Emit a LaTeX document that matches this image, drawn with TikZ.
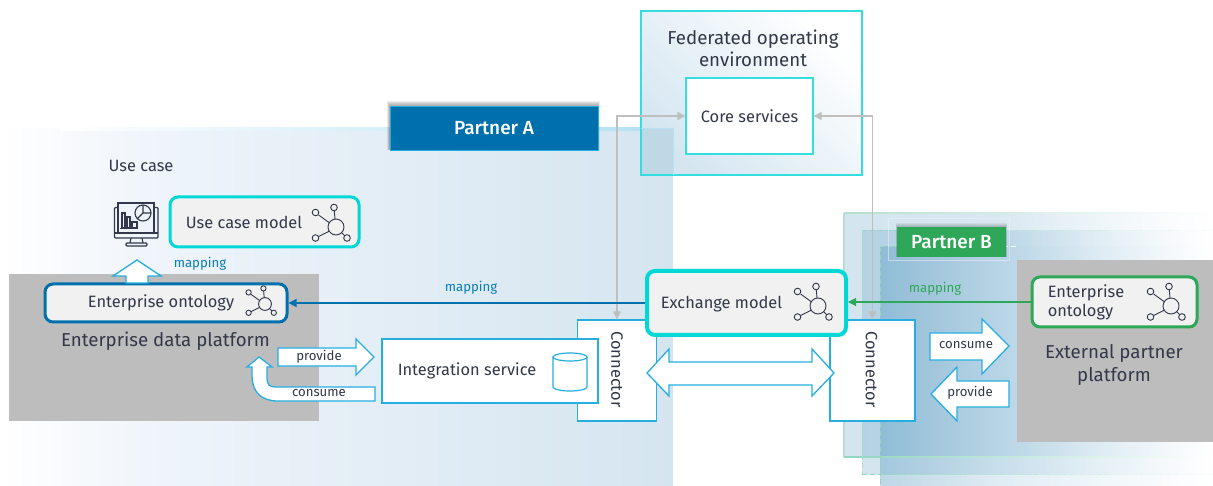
\documentclass[tikz,border=0pt]{standalone}
\usepackage{fontspec}
\setmainfont{Fira Sans}
\newfontfamily\medfont{Fira Sans Medium}
\usetikzlibrary{arrows.meta}
\definecolor{ink}{HTML}{33384A}
\definecolor{cyanb}{HTML}{00D8D8}
\definecolor{cyanl}{HTML}{35DEDE}
\definecolor{skyb}{HTML}{27AEE0}
\definecolor{blueb}{HTML}{0070AD}
\definecolor{greenb}{HTML}{2EA858}
\definecolor{platf}{HTML}{BDBDBD}
\definecolor{modelf}{HTML}{F1F1F1}
\definecolor{graya}{HTML}{BFBFBF}
\definecolor{aa}{HTML}{EEF4FA}
\definecolor{ab}{HTML}{D5E5F0}
\definecolor{overlap}{HTML}{BFD8E6}
\definecolor{feda}{HTML}{D5E6F1}
\definecolor{toplin}{HTML}{B5E2F3}
\definecolor{greenl}{HTML}{B5E0D0}
\definecolor{greend}{HTML}{8FD6BE}
\definecolor{la}{HTML}{6FA8CB}
\definecolor{lb}{HTML}{7FB2D2}
\definecolor{lc}{HTML}{CAE0EC}
\definecolor{ld}{HTML}{EBF3F8}
\definecolor{ma}{HTML}{5A9CC4}
\definecolor{mb}{HTML}{80B0CE}
\definecolor{mc}{HTML}{B2D2E4}
\definecolor{md}{HTML}{D9E9F2}
\definecolor{me}{HTML}{EEF5FA}
\pgfdeclarehorizontalshading{pA}{100bp}{color(0bp)=(white); color(25bp)=(white); color(37bp)=(aa); color(75bp)=(ab); color(100bp)=(ab)}
\pgfdeclarehorizontalshading{pBlay}{100bp}{color(0bp)=(la); color(25bp)=(la); color(46bp)=(lb); color(60bp)=(lc); color(68bp)=(ld); color(75bp)=(white); color(100bp)=(white)}
\pgfdeclarehorizontalshading{pBtop}{100bp}{color(0bp)=(ma); color(25bp)=(ma); color(32.5bp)=(mb); color(43bp)=(mc); color(58bp)=(md); color(67bp)=(me); color(75bp)=(white); color(100bp)=(white)}
\tikzset{
 x=1pt,y=-1pt,
 every node/.style={font=\fontsize{16.4}{19}\selectfont,text=ink,inner sep=0pt,align=center},
 modelbox/.style={rounded corners=8pt,fill=modelf,line width=#1},
 modelbox/.default=3pt,
 whitebox/.style={draw=skyb,line width=1.4pt,fill=white},
 arrowshape/.style={draw=skyb,line width=1.3pt,fill=white,line join=miter},
 grayline/.style={draw=graya,line width=1.1pt,{Triangle[length=8pt,width=8pt,fill=graya]}-{Triangle[length=8pt,width=8pt,fill=graya]}},
 mapline/.style={line width=1.1pt,-{Triangle[length=8pt,width=8pt]}},
 small/.style={font=\fontsize{13.2}{15}\selectfont},
 netline/.style={draw=ink,line width=0.9pt},
 platform/.style={fill=platf},
 partnerlabel/.style={text=white,font=\fontsize{19}{22}\selectfont\medfont},
 fadedash/.style={draw=greend,line width=1pt,dash pattern=on 5pt off 3pt},
}
\newcommand{\neticon}[3]{% cx, cy, scale
 \begin{scope}[shift={(#1,#2)},scale=#3,netline]
  \draw (0,0) circle[radius=8];
  \draw (-6.6,-4.2) -- (-17.4,-12); \draw (-1,-8) -- (-1.7,-16);
  \draw (-6.8,4.2) -- (-17.6,9.6); \draw (5.7,5.7) -- (9,9);
  \draw[fill=modelf] (-20.5,-14.5) circle[radius=3.3];
  \draw[fill=modelf] (-2,-19.5) circle[radius=3.3];
  \draw[fill=modelf] (-20.5,11) circle[radius=3.3];
  \draw[fill=modelf] (11,11) circle[radius=3.3];
 \end{scope}}
\newcommand{\fadeline}[3]{% x start, y, x end of dashed fade
 \foreach \k in {0,...,9}{
  \pgfmathsetmacro{\xa}{#1+(#3-#1)*\k/10}
  \pgfmathsetmacro{\xb}{#1+(#3-#1)*(\k+1)/10}
  \pgfmathsetmacro{\pp}{int(95-9.5*\k)}
  \draw[fadedash,draw=greend!\pp!white] (\xa,#2) -- (\xb,#2);
 }}
\begin{document}
\begin{tikzpicture}
\useasboundingbox (0,0) rectangle (1213,486);
% Federated environment
\shade[top color=feda,bottom color=white,shading angle=135] (641,11) rectangle (862,175);
% Partner A
\shade[shading=pA] (0,129) rectangle (673,486);
\fill[overlap] (641,129) rectangle (673,175);
\shade[left color=white,right color=toplin] (60,128) rectangle (641,130.5);
\draw[cyanl,line width=1.3pt] (641,11) rectangle (862,175);
\draw[toplin,line width=1pt] (641,129) -- (673,129) -- (673,175);
% Partner B
\shade[shading=pBlay,fill opacity=.3] (844,213) rectangle (1213,457);
\shade[shading=pBlay,fill opacity=.3] (862,231) rectangle (1213,474);
\shade[shading=pBtop,fill opacity=.4] (880,247) rectangle (1213,486);
\shade[left color=greenl,right color=white] (844,212.3) rectangle (1213,213.7);
\draw[greenl,line width=1.2pt] (844,213) -- (844,457);
\shade[left color=greend,right color=white] (844,456.4) rectangle (1213,457.6);
\draw[fadedash,draw=greend!80!white] (862,231) -- (862,474);
\fadeline{862}{231}{1213}
\fadeline{862}{474}{1213}
\draw[fadedash] (880,247) -- (880,486);
\fadeline{880}{247}{1017}
% Platforms
\fill[platform] (9,274) rectangle (319,421);
\fill[platform] (1017,260) rectangle (1213,442);
% Partner labels
\foreach \d in {1,...,5}{\fill[black,opacity=.07] (390-.6*\d,106-\d) rectangle (598+.3*\d,150);}
\node[fill=blueb,draw=skyb,line width=.6pt,minimum width=208pt,minimum height=44pt,partnerlabel] (partnerA) at (494,128) {Partner A};
\draw[aa,opacity=.5,line width=.5pt] (888,218) rectangle (1009,260);
\foreach \d in {1,...,4}{\fill[black,opacity=.06] (897-.3*\d,227-\d) rectangle (1006+.3*\d,257);}
\node[fill=greenb,minimum width=109pt,minimum height=30pt,partnerlabel] (partnerB) at (951.5,242) {Partner B};
% Federated
\node[font=\fontsize{18.7}{22}\selectfont] (fedtext) at (753,48) {Federated operating\\environment};
\node[draw=cyanl,line width=1.3pt,fill=white,minimum width=127pt,minimum height=76pt] (core) at (749.5,116) {};
\node at (749.5,116) (coretext) {Core services};
% Connectors
\node[whitebox,minimum width=79pt,minimum height=101pt] (connL) at (617,370.5) {};
\node[rotate=-90] (connLt) at (617,369.5) {Connector};
\node[whitebox,minimum width=85pt,minimum height=101pt] (connR) at (872.5,370.5) {};
\node[rotate=-90] (connRt) at (871.5,369.5) {Connector};
% Gray lines
\draw[grayline] (connL.north) -- (connL.north |- core.west) -- (core.west);
\draw[grayline] (connR.north) -- (connR.north |- core.east) -- (core.east);
% Integration service
\node[whitebox,minimum width=216pt,minimum height=64pt] (integ) at (490,371) {};
\node (integt) at (467,370.5) {Integration service};
\begin{scope}[draw=skyb,line width=1.2pt]
 \draw (553,357) -- (553,387) arc[start angle=180,end angle=0,x radius=17,y radius=4] -- (587,357);
 \draw (570,357) ellipse[x radius=17,y radius=4];
\end{scope}
% Model boxes
\node[modelbox=3pt,draw=cyanb,minimum width=189pt,minimum height=50pt] (ucm) at (264.5,222) {};
\node (ucmt) at (244,222) {Use case model};
\neticon{336}{227}{1}
\node[modelbox=3pt,draw=blueb,minimum width=242pt,minimum height=38pt] (ont) at (166,303) {};
\node (ontt) at (161,303) {Enterprise ontology};
\neticon{265}{304}{.8}
\node[modelbox=4pt,draw=cyanb,minimum width=199pt,minimum height=64pt] (exch) at (746.5,303) {};
\node (excht) at (721.5,304) {Exchange model};
\neticon{818}{306}{1}
\node[modelbox=3pt,draw=greenb,minimum width=165pt,minimum height=50pt] (ext) at (1114.5,302) {};
\node[align=left] (extt) at (1086,302.5) {Enterprise\\ontology};
\neticon{1171}{306}{1}
% Platform labels
\node[font=\fontsize{18.7}{22}\selectfont] (edp) at (165.5,341) {Enterprise data platform};
\node[font=\fontsize{18.7}{23}\selectfont] (epp) at (1114,364.5) {External partner\\platform};
\node (uc) at (141,165.5) {Use case};
% Mapping
\draw[mapline,blueb] (exch.west) -- (ont.east);
\draw[mapline,greenb] (ext.west) -- (exch.east |- ext.west);
\node[small,text=blueb!80!skyb] (m1) at (200,264) {mapping};
\node[small,text=blueb!80!skyb] (m2) at (471,288) {mapping};
\node[small,text=greenb] (m3) at (935,289) {mapping};
% Monitor icon
\begin{scope}[draw=ink,line width=1.1pt]
 \draw[rounded corners=1pt] (114.5,207.5) rectangle (158,238);
 \draw[fill=aa] (118,203) rectangle (154,233);
 \draw (114.5,233) -- (158,233);
 \draw (131,238) -- (130,243) (142,238) -- (143,243);
 \draw[rounded corners=1pt] (126,243) rectangle (147,246);
 \draw (122,228) rectangle (125,213) (127,228) rectangle (130,217) (132,228) rectangle (137,222);
 \draw (120,228.5) -- (138,228.5);
 \draw (143,213) circle[radius=8];
 \draw (143,213) -- (143,205) (143,213) -- (151,213) (143,213) -- (137,219);
\end{scope}
% Arrows
\draw[arrowshape] (113,276) -- (137,260) -- (161,276) -- (148,276) -- (148,283) -- (126,283) -- (126,276) -- cycle;
\draw[arrowshape] (278,348) -- (356,348) -- (356,339) -- (374,357) -- (356,375) -- (356,366) -- (278,366) -- cycle;
\node[small] (prov1) at (319,357) {provide};
\draw[arrowshape] (375,387) -- (275,387) .. controls (269,387) and (267,384) .. (267,378) -- (267,367) -- (272,367) -- (259,357) -- (247,367) -- (252,367) -- (252,375) .. controls (252,393) and (262,401) .. (278,401) -- (375,401) -- cycle;
\node[small] (cons1) at (319,393.5) {consume};
\draw[arrowshape] (647,373) -- (669,349) -- (669,362) -- (812,362) -- (812,349) -- (834,373) -- (812,396) -- (812,385) -- (669,385) -- (669,396) -- cycle;
\draw[arrowshape] (930,333) -- (982,333) -- (982,319) -- (1009,346) -- (982,374) -- (982,360) -- (930,360) -- cycle;
\node[small] (cons2) at (966,345.5) {consume};
\draw[arrowshape] (931,394) -- (957,367) -- (957,381) -- (1009,381) -- (1009,407) -- (957,407) -- (957,421) -- cycle;
\node[small] (prov2) at (970,393) {provide};
\end{tikzpicture}
\end{document}
